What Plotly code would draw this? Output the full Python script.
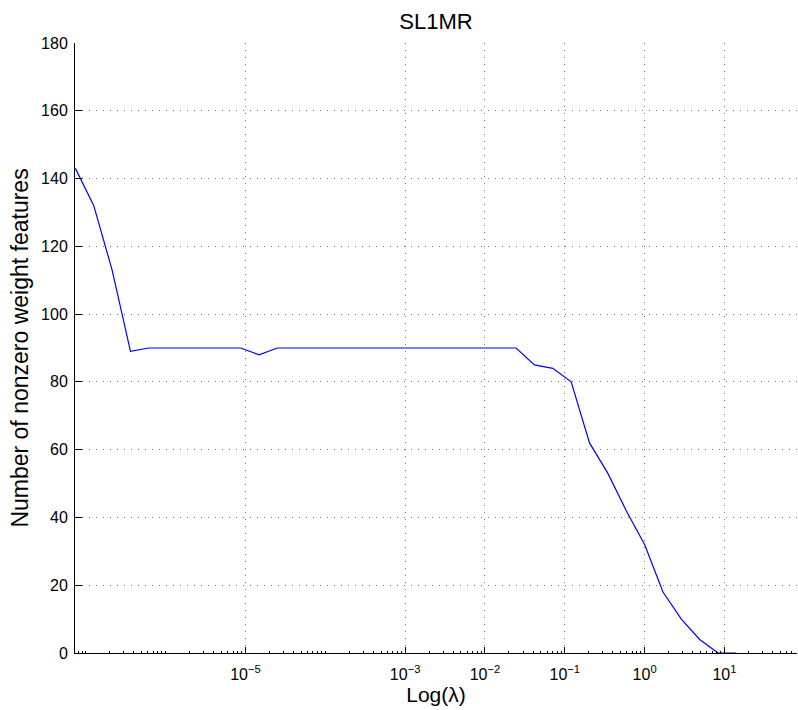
import plotly.graph_objects as go

# log10(lambda) values
log10_lambda = [-7.13, -6.90, -6.67, -6.44, -6.21, -5.98, -5.75, -5.52, -5.29, -5.06,
                -4.83, -4.60, -4.37, -4.14, -3.91, -3.68, -3.45, -3.22, -2.99, -2.76,
                -2.53, -2.30, -2.07, -1.84, -1.61, -1.38, -1.15, -0.92, -0.69, -0.46,
                -0.23, 0.00, 0.23, 0.46, 0.69, 0.92, 1.15]
lam = [10 ** v for v in log10_lambda]
n_features = [143, 132, 113, 89, 90, 90, 90, 90, 90, 90,
              88, 90, 90, 90, 90, 90, 90, 90, 90, 90,
              90, 90, 90, 90, 90, 85, 84, 80, 62, 53,
              42, 32, 18, 10, 4, 0, 0]

x_tickvals = [1e-5, 1e-3, 1e-2, 1e-1, 1, 10]
x_ticktext = ["10<sup>\u22125</sup>", "10<sup>\u22123</sup>", "10<sup>\u22122</sup>",
              "10<sup>\u22121</sup>", "10<sup>0</sup>", "10<sup>1</sup>"]
y_tickvals = [0, 20, 40, 60, 80, 100, 120, 140, 160, 180]

FONT = "Liberation Sans, Arial, Helvetica, sans-serif"

fig = go.Figure()
fig.add_trace(go.Scatter(x=lam, y=n_features, mode="lines",
                         line=dict(color="rgb(0,0,255)", width=1.2),
                         showlegend=False))

fig.update_layout(
    width=798, height=710,
    margin=dict(l=75, r=1, t=43, b=57),
    paper_bgcolor="white", plot_bgcolor="white",
    font=dict(family=FONT, color="black", size=16),
    title=dict(text="SL1MR", x=(75 + 797) / 2 / 798, xanchor="center",
               y=1 - 21 / 710, yanchor="middle", yref="container",
               font=dict(size=22, family=FONT, color="black")),
)

fig.update_xaxes(
    type="log", range=[-7.135, 1.909],
    tickvals=x_tickvals, ticktext=x_ticktext,
    ticks="inside", ticklen=6, tickcolor="black", tickwidth=1,
    ticklabelstandoff=7,
    showline=True, linecolor="black", linewidth=1,
    showgrid=True, gridcolor="rgba(0,0,0,0.55)", griddash="1px,6px", gridwidth=1,
    zeroline=False,
    tickfont=dict(size=16, family=FONT),
    title=dict(text="Log(\u03bb)", font=dict(size=21, family=FONT), standoff=2),
    minor=dict(ticks="inside", ticklen=2, tickcolor="black", dtick="D1", showgrid=False),
)
fig.update_yaxes(
    range=[0, 180], tickvals=y_tickvals,
    ticks="inside", ticklen=7, tickcolor="black", tickwidth=1,
    ticklabelstandoff=3,
    showline=True, linecolor="black", linewidth=1,
    showgrid=True, gridcolor="rgba(0,0,0,0.55)", griddash="1px,6px", gridwidth=1,
    zeroline=False,
    tickfont=dict(size=16, family=FONT),
    title=dict(text="Number of nonzero weight features", font=dict(size=23, family=FONT), standoff=6),
)

fig.write_html("out.html")
